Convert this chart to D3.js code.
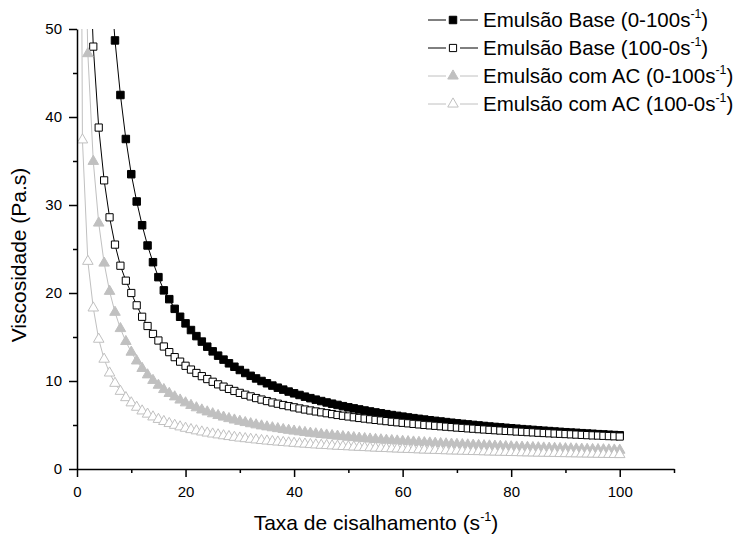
<!DOCTYPE html>
<html>
<head>
<meta charset="utf-8">
<script src="https://cdn.jsdelivr.net/npm/d3@7"></script>
<style>
  body { margin: 0; background: #fff; }
  svg text { font-family: Arial, "Liberation Sans", sans-serif; fill: #000; }
</style>
</head>
<body>
<svg id="chart" width="734" height="540"></svg>
<script>
// Shear rate (s^-1) shared by all four flow curves
const shearRate = [0.35,
  1,2,3,4,5,6,7,8,9,10,11,12,13,14,15,16,17,18,19,20,
  21,22,23,24,25,26,27,28,29,30,31,32,33,34,35,36,37,38,39,40,
  41,42,43,44,45,46,47,48,49,50,51,52,53,54,55,56,57,58,59,60,
  61,62,63,64,65,66,67,68,69,70,71,72,73,74,75,76,77,78,79,80,
  81,82,83,84,85,86,87,88,89,90,91,92,93,94,95,96,97,98,99,100];

// Viscosity (Pa.s) - base emulsion, up ramp 0-100 s^-1
const baseUp = [970,
  340.0,170.2,113.6,85.3,68.4,57.0,48.7,42.5,37.5,33.5,
  30.4,27.7,25.4,23.5,21.8,20.3,19.3,18.2,17.3,16.55,
  15.79,15.10,14.48,13.90,13.37,12.88,12.43,12.01,11.62,11.25,
  10.91,10.59,10.29,10.00,9.74,9.48,9.24,9.02,8.80,8.60,
  8.41,8.22,8.05,7.88,7.72,7.56,7.42,7.28,7.14,7.01,
  6.89,6.77,6.65,6.54,6.43,6.33,6.23,6.13,6.04,5.95,
  5.86,5.78,5.70,5.62,5.54,5.47,5.40,5.33,5.26,5.19,
  5.13,5.07,5.01,4.95,4.89,4.83,4.78,4.73,4.68,4.63,
  4.58,4.53,4.48,4.44,4.39,4.35,4.31,4.26,4.22,4.18,
  4.14,4.11,4.07,4.03,4.00,3.96,3.93,3.89,3.86,3.83];

// Viscosity (Pa.s) - base emulsion, down ramp 100-0 s^-1
const baseDown = [357,
  104,64,48.0,38.8,32.8,28.6,25.5,23.1,21.4,20.0,
  18.6,17.3,16.25,15.35,14.6,13.92,13.28,12.71,12.20,11.73,
  11.30,10.91,10.55,10.22,9.91,9.62,9.36,9.10,8.87,8.65,
  8.44,8.25,8.06,7.89,7.72,7.56,7.42,7.27,7.14,7.01,
  6.88,6.76,6.65,6.54,6.44,6.34,6.24,6.14,6.05,5.97,
  5.88,5.80,5.73,5.65,5.58,5.51,5.44,5.37,5.31,5.25,
  5.19,5.13,5.07,5.01,4.96,4.91,4.86,4.81,4.76,4.71,
  4.67,4.62,4.58,4.53,4.49,4.45,4.41,4.37,4.33,4.30,
  4.26,4.23,4.19,4.16,4.12,4.09,4.06,4.03,4.00,3.97,
  3.94,3.91,3.88,3.85,3.82,3.80,3.77,3.74,3.72,3.69];

// Viscosity (Pa.s) - emulsion with AC, up ramp 0-100 s^-1
const acUp = [318,
  74.3,47.2,34.96,27.95,23.40,20.19,17.81,15.96,14.49,13.28,
  12.28,11.43,10.70,10.07,9.52,9.03,8.59,8.20,7.84,7.52,
  7.23,6.96,6.71,6.49,6.28,6.08,5.90,5.73,5.57,5.42,
  5.28,5.15,5.02,4.90,4.79,4.69,4.59,4.49,4.40,4.31,
  4.23,4.15,4.07,4.00,3.93,3.86,3.80,3.74,3.68,3.62,
  3.57,3.51,3.46,3.41,3.36,3.32,3.27,3.23,3.19,3.15,
  3.11,3.07,3.03,2.99,2.96,2.92,2.89,2.86,2.83,2.80,
  2.77,2.74,2.71,2.68,2.65,2.63,2.60,2.58,2.55,2.53,
  2.50,2.48,2.46,2.44,2.42,2.39,2.37,2.35,2.33,2.31,
  2.30,2.28,2.26,2.24,2.22,2.21,2.19,2.17,2.16,2.14];

// Viscosity (Pa.s) - emulsion with AC, down ramp 100-0 s^-1
const acDown = [123,
  37.4,23.6,18.3,14.75,12.48,10.91,9.74,8.83,8.11,7.52,
  7.02,6.60,6.24,5.92,5.64,5.40,5.17,4.97,4.79,4.63,
  4.48,4.34,4.21,4.09,3.98,3.88,3.78,3.69,3.60,3.52,
  3.45,3.38,3.31,3.24,3.18,3.12,3.07,3.02,2.97,2.92,
  2.87,2.83,2.78,2.74,2.70,2.67,2.63,2.59,2.56,2.53,
  2.50,2.47,2.44,2.41,2.38,2.35,2.33,2.30,2.28,2.25,
  2.23,2.21,2.18,2.16,2.14,2.12,2.10,2.08,2.06,2.05,
  2.03,2.01,1.99,1.98,1.96,1.94,1.93,1.91,1.90,1.88,
  1.87,1.85,1.84,1.83,1.81,1.80,1.79,1.78,1.76,1.75,
  1.74,1.73,1.72,1.71,1.70,1.68,1.67,1.66,1.65,1.64];

const xMajorTicks = [0, 20, 40, 60, 80, 100];
const xMinorTicks = [10, 30, 50, 70, 90, 110];
const yMajorTicks = [0, 10, 20, 30, 40, 50];
const yMinorTicks = [5, 15, 25, 35, 45];

const seriesLabels = [
  ["Emulsão Base (0-100s", "-1", ")"],
  ["Emulsão Base (100-0s", "-1", ")"],
  ["Emulsão com AC (0-100s", "-1", ")"],
  ["Emulsão com AC (100-0s", "-1", ")"]
];

const GRAY = "#c0c0c0";
const series = [
  { values: baseUp,   symbol: d3.symbolSquare,   size: 56, stroke: "#000", fill: "#000" },
  { values: baseDown, symbol: d3.symbolSquare,   size: 52, stroke: "#000", fill: "#fff" },
  { values: acUp,     symbol: d3.symbolTriangle, size: 48, stroke: GRAY,   fill: GRAY },
  { values: acDown,   symbol: d3.symbolTriangle, size: 48, stroke: GRAY,   fill: "#fff" }
];

const svg = d3.select("#chart");
const x = d3.scaleLinear().domain([0, 110]).range([77, 674]);
const y = d3.scaleLinear().domain([0, 50]).range([469, 29]);

svg.append("defs").append("clipPath").attr("id", "plot-area")
  .append("rect")
  .attr("x", x(0)).attr("y", y(50))
  .attr("width", x(110) - x(0)).attr("height", y(0) - y(50));

// Flow curves: connecting line plus symbols, drawn series by series
const plot = svg.append("g").attr("clip-path", "url(#plot-area)");
const line = d3.line().x(d => x(d[0])).y(d => y(d[1]));

series.forEach(s => {
  const pts = shearRate.map((g, i) => [g, s.values[i]]);
  const g = plot.append("g");
  g.append("path").datum(pts)
    .attr("d", line)
    .attr("fill", "none")
    .attr("stroke", s.stroke)
    .attr("stroke-width", 1);
  g.selectAll("path.sym")
    .data(pts.filter(d => d[1] <= 55))
    .join("path")
    .attr("class", "sym")
    .attr("transform", d => `translate(${x(d[0])},${y(d[1])})`)
    .attr("d", d3.symbol(s.symbol, s.size))
    .attr("fill", s.fill)
    .attr("stroke", s.stroke)
    .attr("stroke-width", 1);
});

// Axes
function styleAxis(g) {
  g.selectAll("path, line").attr("stroke", "#000").attr("stroke-width", 1.5);
  g.selectAll("text").attr("font-size", 15).attr("fill", "#000")
    .attr("font-family", "Arial, 'Liberation Sans', sans-serif");
}

svg.append("g")
  .attr("transform", `translate(0,${y(0)})`)
  .call(d3.axisBottom(x).tickValues(xMinorTicks).tickSize(4).tickSizeOuter(0).tickFormat(""))
  .call(g => g.select(".domain").remove())
  .call(styleAxis);

svg.append("g")
  .attr("transform", `translate(${x(0)},0)`)
  .call(d3.axisLeft(y).tickValues(yMinorTicks).tickSize(4).tickSizeOuter(0).tickFormat(""))
  .call(g => g.select(".domain").remove())
  .call(styleAxis);

svg.append("g")
  .attr("transform", `translate(0,${y(0)})`)
  .call(d3.axisBottom(x).tickValues(xMajorTicks).tickSize(8).tickSizeOuter(0).tickPadding(9))
  .call(styleAxis);

svg.append("g")
  .attr("transform", `translate(${x(0)},0)`)
  .call(d3.axisLeft(y).tickValues(yMajorTicks).tickSize(8).tickSizeOuter(0).tickPadding(7))
  .call(styleAxis);

// Text with a superscript exponent
function supText(sel, parts, fontSize) {
  const rise = fontSize * 0.42;
  sel.append("tspan").text(parts[0]);
  sel.append("tspan").attr("font-size", fontSize * 0.6).attr("dy", -rise).text(parts[1]);
  sel.append("tspan").attr("dy", rise).text(parts[2]);
}

// Axis titles
svg.append("text")
  .attr("x", 376).attr("y", 530)
  .attr("text-anchor", "middle").attr("font-size", 21)
  .call(t => supText(t, ["Taxa de cisalhamento (s", "-1", ")"], 21));

svg.append("text")
  .attr("transform", "translate(26,255) rotate(-90)")
  .attr("text-anchor", "middle").attr("font-size", 21)
  .text("Viscosidade (Pa.s)");

// Legend: short line broken around the symbol, then the label
const legendRows = [20, 48, 76, 104];
const legend = svg.append("g");
series.forEach((s, i) => {
  const ly = legendRows[i];
  [[428, 446], [460, 478]].forEach(([a, b]) => {
    legend.append("line")
      .attr("x1", a).attr("x2", b).attr("y1", ly).attr("y2", ly)
      .attr("stroke", s.stroke).attr("stroke-width", 1);
  });
  legend.append("path")
    .attr("transform", `translate(453,${ly})`)
    .attr("d", d3.symbol(s.symbol, s.size))
    .attr("fill", s.fill).attr("stroke", s.stroke).attr("stroke-width", 1);
  legend.append("text")
    .attr("x", 483).attr("y", ly + 7)
    .attr("font-size", 20.5)
    .call(t => supText(t, seriesLabels[i], 20.5));
});
</script>
</body>
</html>
